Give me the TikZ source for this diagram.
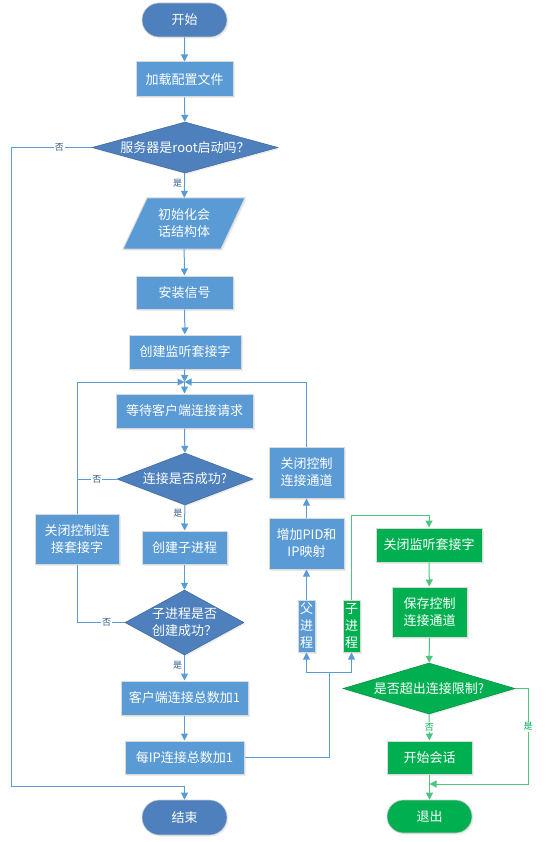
\documentclass[tikz,border=0pt]{standalone}
\usepackage{fontspec}
\setmainfont{Noto Sans CJK SC}
\usetikzlibrary{arrows.meta,shapes.geometric,shapes.misc,shadows}
\definecolor{boxblue}{HTML}{5B9BD5}
\definecolor{decblue}{HTML}{4D80BC}
\definecolor{lineblue}{HTML}{5B9BD5}
\definecolor{lblblue}{HTML}{2E5C8A}
\definecolor{boxgreen}{HTML}{00B050}
\definecolor{linegreen}{HTML}{4CC57F}

\begin{document}
\begin{tikzpicture}[x=1pt,y=-1pt]
\tikzstyle{txt}=[text=white,font=\fontsize{13}{17}\selectfont,align=center]
\tikzstyle{box}=[rectangle,fill=boxblue,draw=black!15,line width=1pt,inner sep=0pt,txt,drop shadow={opacity=0.15,shadow xshift=1.5pt,shadow yshift=-1.5pt}]
\tikzstyle{gbox}=[box,fill=boxgreen]
\tikzstyle{term}=[rounded rectangle,fill=decblue,draw=black!20,line width=0.6pt,inner sep=0pt,txt,drop shadow={opacity=0.15,shadow xshift=1.5pt,shadow yshift=-1.5pt}]
\tikzstyle{gterm}=[term,fill=boxgreen]
\tikzstyle{dec}=[diamond,fill=decblue,draw=decblue!80!black,line width=0.5pt,inner sep=0pt,drop shadow={opacity=0.15,shadow xshift=1.5pt,shadow yshift=-1.5pt}]
\tikzstyle{gdec}=[dec,fill=boxgreen,draw=boxgreen!80!black]
\tikzstyle{line}=[draw=lineblue,line width=1pt]
\tikzstyle{arr}=[line,-{Triangle[length=7pt,width=7pt]}]
\tikzstyle{gline}=[draw=linegreen,line width=1pt]
\tikzstyle{garr}=[gline,-{Triangle[length=7pt,width=7pt]}]
\tikzstyle{lbl}=[font=\fontsize{9}{10}\selectfont,text=lblblue,fill=white,inner sep=1pt]
\tikzstyle{glbl}=[lbl,text=boxgreen]
\useasboundingbox (0,0) rectangle (554,842);

% main column
\node[term,minimum width=85,minimum height=34] (start) at (184.5,20) {开始};
\node[box,minimum width=97,minimum height=35] (load) at (184.5,79.5) {加载配置文件};
\node[dec,minimum width=186,minimum height=51,label={[txt]center:服务器是root启动吗？}] (root) at (185,147.5) {};
% parallelogram drawn by hand, node on top
\fill[boxblue,drop shadow={opacity=0.15,shadow xshift=1.5pt,shadow yshift=-1.5pt}] (123,249) -- (147,198) -- (245,198) -- (221,249) -- cycle;
\draw[black!15,line width=1pt] (123,249) -- (147,198) -- (245,198) -- (221,249) -- cycle;
\node[txt,inner sep=0pt,minimum width=98,minimum height=51] (init) at (184,223.5) {初始化会\\话结构体};
\node[box,minimum width=97,minimum height=33] (sig) at (184.5,292.5) {安装信号};
\node[box,minimum width=112,minimum height=34] (listen) at (185,352) {创建监听套接字};
\coordinate (mrg) at (184.5,382);
\node[box,minimum width=137,minimum height=34] (wait) at (184.5,411) {等待客户端连接请求};
\node[dec,minimum width=136,minimum height=52,label={[txt]center:连接是否成功?}] (conn) at (185,479) {};
\node[box,minimum width=84,minimum height=50] (closecs) at (77,539) {关闭控制连\\接套接字};
\node[box,minimum width=85,minimum height=33] (fork) at (184.5,547.5) {创建子进程};
\node[dec,minimum width=119,minimum height=65,label={[txt]center:子进程是否\\创建成功？}] (okchild) at (184.5,622.5) {};
\node[box,minimum width=127,minimum height=34] (cnt) at (184.5,698) {客户端连接总数加1};
\node[box,minimum width=119,minimum height=33] (ipcnt) at (184.5,757.5) {每IP连接总数加1};
\node[term,minimum width=85,minimum height=35] (end) at (184.5,817.5) {结束};

% parent side
\node[box,minimum width=75,minimum height=51] (closech) at (306.5,472.5) {关闭控制\\连接通道};
\node[box,minimum width=75,minimum height=51] (addpid) at (306.5,543.5) {增加PID和\\IP映射};
\node[box,minimum width=17,minimum height=52] (parp) at (306.5,626) {父\\进\\程};

% child side
\node[gbox,minimum width=17,minimum height=52] (chp) at (351.5,626) {子\\进\\程};
\node[gbox,minimum width=106,minimum height=34] (closels) at (429,545) {关闭监听套接字};
\node[gbox,minimum width=75,minimum height=50] (save) at (429.5,612) {保存控制\\连接通道};
\node[gdec,minimum width=172,minimum height=51,label={[txt]center:是否超出连接限制?}] (limit) at (429,688.5) {};
\node[gbox,minimum width=85,minimum height=33] (sess) at (429.5,757.5) {开始会话};
\node[gterm,minimum width=85,minimum height=33] (quit) at (429.5,816.5) {退出};

\coordinate (noroot) at (11,786);
\coordinate (split) at (329,672);
\coordinate (gtop) at (429,515);
\coordinate (yesr) at (528,784);

\draw[arr] (start) -- (load);
\draw[arr] (load) -- (root);
\draw[arr] (root) -- node[lbl,pos=0.4,left=1pt] {是} (init);
\draw[arr] (root.west) -| node[lbl,pos=0.2] {否} (noroot) -| (end.north);
\draw[arr] (init) -- (sig);
\draw[arr] (sig) -- (listen);
\draw[arr] (listen) -- (mrg);
\draw[arr] (mrg) -- (wait);
\draw[arr] (wait) -- (conn);
\draw[arr] (conn) -- node[lbl,pos=0.3,left=1pt] {是} (fork);
\draw[line] (conn.west) -- node[lbl,pos=0.5] {否} (closecs.north |- conn.west);
\draw[arr] (closecs.north) |- (mrg);
\draw[arr] (fork) -- (okchild);
\draw[line] (okchild.west) -| node[lbl,pos=0.19] {否} (closecs.south);
\draw[arr] (okchild) -- node[lbl,pos=0.38,left=1pt] {是} (cnt);
\draw[arr] (cnt) -- (ipcnt);
\draw[line] (ipcnt.east) -| (split);
\draw[arr] (split) -| (parp.south);
\draw[arr] (split) -| (chp.south);
\draw[arr] (parp) -- (addpid);
\draw[arr] (addpid) -- (closech);
\draw[arr] (closech.north) |- (mrg);

\draw[garr] (chp.north) |- (gtop) -- (closels.north);
\draw[garr] (closels) -- (save);
\draw[garr] (save) -- (limit);
\draw[garr] (limit) -- node[glbl,pos=0.5] {否} (sess);
\draw[garr] (limit.east) -| node[glbl,pos=0.7] {是} (yesr) -- (sess.south |- yesr);
\draw[garr] (sess) -- (quit);
\end{tikzpicture}
\end{document}
